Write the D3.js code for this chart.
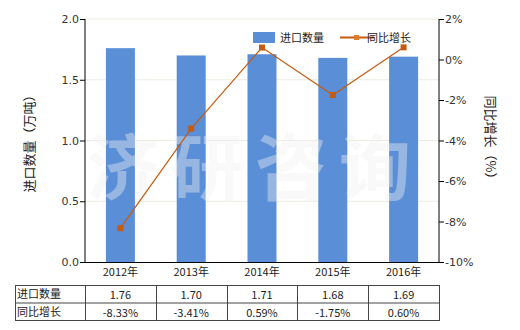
<!DOCTYPE html>
<meta charset="utf-8">
<script src="https://d3js.org/d3.v7.min.js"></script>
<style>
  body { margin: 0; background: #fff; }
  text { font-family: "Noto Sans CJK SC", "DejaVu Sans", sans-serif; }
</style>
<div id="chart"></div>
<script>
// data
var years = ["2012年", "2013年", "2014年", "2015年", "2016年"];
var qty = [1.76, 1.70, 1.71, 1.68, 1.69];
var growth = [-8.33, -3.41, 0.59, -1.75, 0.60];
var qtyLabels = ["1.76", "1.70", "1.71", "1.68", "1.69"];
var growthLabels = ["-8.33%", "-3.41%", "0.59%", "-1.75%", "0.60%"];
var leftTicks = [0, 0.5, 1.0, 1.5, 2.0];
var rightTicks = [-10, -8, -6, -4, -2, 0, 2];

var W = 520, H = 330;
var plot = {left: 85, right: 439, top: 19, bottom: 262};
var barColor = "#5a8fd7", lineColor = "#c55a11";

var svg = d3.select("#chart").append("svg")
  .attr("width", W).attr("height", H);

var xc = d3.scaleBand().domain(years).range([plot.left, plot.right]);
var yL = d3.scaleLinear().domain([0, 2]).range([plot.bottom, plot.top]);
var yR = d3.scaleLinear().domain([-10, 2]).range([plot.bottom, plot.top]);

// gridlines
svg.append("g").selectAll("line")
  .data(leftTicks.slice(1))
  .enter().append("line")
    .attr("x1", plot.left).attr("x2", plot.right)
    .attr("y1", function(d) { return yL(d); })
    .attr("y2", function(d) { return yL(d); })
    .style("stroke", "#ecebe0").style("stroke-width", 1);

// bars
svg.append("g").selectAll("rect")
  .data(years)
  .enter().append("rect")
    .attr("x", function(d) { return xc(d) + xc.bandwidth() / 2 - 14.5; })
    .attr("width", 29)
    .attr("y", function(d, i) { return yL(qty[i]); })
    .attr("height", function(d, i) { return plot.bottom - yL(qty[i]); })
    .style("fill", barColor);

// watermark, sits over the bars
svg.append("text")
  .attr("x", 255).attr("y", 194)
  .attr("text-anchor", "middle")
  .style("font-size", "72px").style("font-weight", "bold")
  .style("fill", "#f2f2f2").style("opacity", 0.4)
  .style("letter-spacing", "12px")
  .text("济研咨询");

// growth line
var line = d3.line()
  .x(function(d, i) { return xc(years[i]) + xc.bandwidth() / 2; })
  .y(function(d) { return yR(d); });
svg.append("path").datum(growth)
  .attr("d", line)
  .style("fill", "none").style("stroke", lineColor).style("stroke-width", 1.2);
svg.append("g").selectAll("rect")
  .data(growth)
  .enter().append("rect")
    .attr("x", function(d, i) { return xc(years[i]) + xc.bandwidth() / 2 - 3; })
    .attr("y", function(d) { return yR(d) - 3; })
    .attr("width", 6).attr("height", 6)
    .style("fill", lineColor);

// axes
var axL = d3.axisLeft(yL).tickValues(leftTicks).tickFormat(d3.format(".1f")).tickSize(5);
var axR = d3.axisRight(yR).tickValues(rightTicks).tickFormat(function(d) { return d + "%"; }).tickSize(5);
var gL = svg.append("g").attr("transform", "translate(" + plot.left + ",0)").call(axL);
var gR = svg.append("g").attr("transform", "translate(" + plot.right + ",0)").call(axR);
[gL, gR].forEach(function(g) {
  g.select(".domain").attr("d", "M0," + plot.top + "V" + plot.bottom);
  g.selectAll("line").style("stroke", "#000");
  g.select(".domain").style("stroke", "#000");
  g.selectAll("text").style("font-size", "11px").style("fill", "#333").style("font-family", "Tahoma, 'DejaVu Sans', sans-serif");
});
gL.selectAll(".tick text").attr("x", -6);
gR.selectAll(".tick text").attr("x", 6);
// x axis baseline
svg.append("line")
  .attr("x1", plot.left).attr("x2", plot.right)
  .attr("y1", plot.bottom + 0.5).attr("y2", plot.bottom + 0.5)
  .style("stroke", "#000");

// year labels
svg.append("g").selectAll("text")
  .data(years)
  .enter().append("text")
    .attr("x", function(d) { return xc(d) + xc.bandwidth() / 2; })
    .attr("y", 276)
    .attr("text-anchor", "middle")
    .style("font-size", "11px").style("fill", "#222")
    .text(function(d) { return d; });

// axis titles
svg.append("text")
  .attr("transform", "translate(34," + ((plot.top + plot.bottom) / 2) + ") rotate(-90)")
  .attr("text-anchor", "middle")
  .style("font-size", "13px").style("fill", "#222")
  .text("进口数量（万吨）");
svg.append("text")
  .attr("transform", "translate(486," + ((plot.top + plot.bottom) / 2) + ") rotate(90)")
  .attr("text-anchor", "middle")
  .style("font-size", "13px").style("fill", "#222")
  .text("同比增长（%）");

// legend
svg.append("rect").attr("x", 253).attr("y", 32).attr("width", 22).attr("height", 11).style("fill", barColor);
svg.append("text").attr("x", 280).attr("y", 42).style("font-size", "11px").style("fill", "#222").text("进口数量");
svg.append("line").attr("x1", 340).attr("x2", 374).attr("y1", 37.5).attr("y2", 37.5).style("stroke", lineColor).style("stroke-width", 2);
svg.append("rect").attr("x", 354).attr("y", 35).attr("width", 5).attr("height", 5).style("fill", "#e07b2a");
svg.append("text").attr("x", 367).attr("y", 42).style("font-size", "11px").style("fill", "#222").text("同比增长");

// table
var tb = {left: 15, top: 285, rowH: 17.5};
var rows = [{name: "进口数量", vals: qtyLabels}, {name: "同比增长", vals: growthLabels}];
var tg = svg.append("g");
tg.append("rect")
  .attr("x", tb.left + 0.5).attr("y", tb.top + 0.5)
  .attr("width", plot.right - tb.left).attr("height", tb.rowH * 2)
  .style("fill", "none").style("stroke", "#444");
tg.append("line")
  .attr("x1", tb.left).attr("x2", plot.right + 0.5)
  .attr("y1", tb.top + tb.rowH + 0.5).attr("y2", tb.top + tb.rowH + 0.5)
  .style("stroke", "#444");
tg.selectAll("line.col")
  .data(years)
  .enter().append("line")
    .attr("class", "col")
    .attr("x1", function(d) { return Math.round(xc(d)) + 0.5; })
    .attr("x2", function(d) { return Math.round(xc(d)) + 0.5; })
    .attr("y1", tb.top).attr("y2", tb.top + tb.rowH * 2)
    .style("stroke", "#444");
rows.forEach(function(r, ri) {
  var yy = tb.top + tb.rowH * ri + 13;
  tg.append("text").attr("x", tb.left + 2).attr("y", yy)
    .style("font-size", "11px").style("fill", "#222").text(r.name);
  tg.selectAll("text.v" + ri)
    .data(r.vals)
    .enter().append("text")
      .attr("class", "v" + ri)
      .attr("x", function(d, i) { return xc(years[i]) + xc.bandwidth() / 2; })
      .attr("y", yy + 1)
      .attr("text-anchor", "middle")
      .style("font-size", "11px").style("fill", "#222")
      .text(function(d) { return d; });
});
</script>
